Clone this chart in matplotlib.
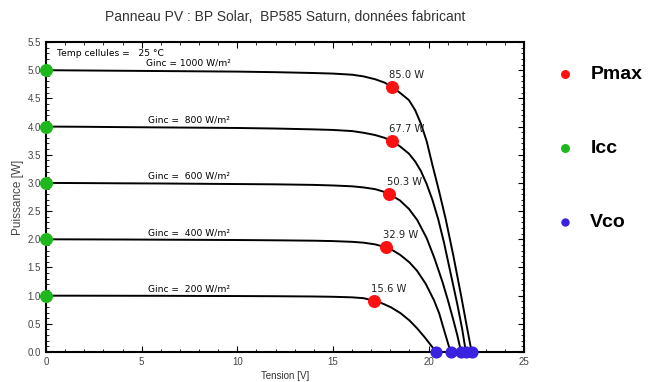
import numpy as np
import matplotlib
matplotlib.use('Agg')
import matplotlib.pyplot as plt
from matplotlib.ticker import MultipleLocator, FormatStrFormatter

plt.rcParams['font.family'] = ['Liberation Sans', 'DejaVu Sans']

# ── données ───────────────────────────────────────────────────────────────────
ginc = [1000, 800, 600, 400, 200]

v_1000 = [0, 2, 4, 6, 8, 10, 12, 14, 15, 16, 16.6, 17.2, 17.7, 18.1, 18.5, 18.97,
          19.3, 19.6, 19.9, 20.2, 20.55, 20.9, 21.3, 21.7, 22.0, 22.25]
i_1000 = [5.00, 4.995, 4.99, 4.985, 4.98, 4.975, 4.965, 4.95, 4.94, 4.92, 4.89, 4.84,
          4.78, 4.70, 4.60, 4.47, 4.29, 4.05, 3.74, 3.32, 2.85, 2.35, 1.70, 1.00, 0.45, 0.0]

v_800 = [0, 2, 4, 6, 8, 10, 12, 14, 15, 16, 16.6, 17.2, 17.7, 18.1, 18.5, 18.97,
         19.3, 19.6, 19.9, 20.2, 20.5, 20.8, 21.15, 21.5, 21.75, 21.95]
i_800 = [4.00, 3.996, 3.99, 3.985, 3.98, 3.975, 3.965, 3.95, 3.94, 3.92, 3.89, 3.85,
         3.80, 3.74, 3.65, 3.52, 3.38, 3.21, 2.98, 2.70, 2.36, 1.95, 1.40, 0.85, 0.42, 0.0]

v_600 = [0, 2, 4, 6, 8, 10, 12, 14, 15, 16, 16.6, 17.2, 17.6, 17.95, 18.5, 18.97,
         19.41, 19.9, 20.3, 20.72, 21.0, 21.3, 21.5, 21.7]
i_600 = [3.00, 2.997, 2.993, 2.99, 2.985, 2.98, 2.975, 2.965, 2.955, 2.94, 2.92, 2.89,
         2.85, 2.80, 2.69, 2.54, 2.34, 2.02, 1.67, 1.25, 0.93, 0.56, 0.30, 0.0]

v_400 = [0, 2, 4, 6, 8, 10, 12, 14, 15, 16, 16.6, 17.2, 17.75, 18.15, 18.53, 19.0,
         19.4, 19.85, 20.28, 20.55, 20.8, 21.15]
i_400 = [2.00, 1.998, 1.996, 1.993, 1.99, 1.987, 1.982, 1.975, 1.968, 1.955, 1.94, 1.91,
         1.86, 1.80, 1.72, 1.59, 1.44, 1.21, 0.92, 0.69, 0.40, 0.0]

v_200 = [0, 2, 4, 6, 8, 10, 12, 14, 15, 16, 16.6, 17.15, 17.6, 18.05, 18.53, 19.0,
         19.4, 19.8, 20.19, 20.4]
i_200 = [1.00, 0.999, 0.998, 0.997, 0.995, 0.993, 0.99, 0.985, 0.98, 0.97, 0.955, 0.91,
         0.86, 0.79, 0.69, 0.56, 0.42, 0.26, 0.09, 0.0]

# points remarquables
isc  = [5.0, 4.0, 3.0, 2.0, 1.0]
voc  = [22.25, 21.95, 21.7, 21.15, 20.4]
vmp  = [18.1, 18.1, 17.95, 17.75, 17.15]
imp  = [4.70, 3.74, 2.80, 1.86, 0.91]
pmax = [85.0, 67.7, 50.3, 32.9, 15.6]

curves = [(v_1000, i_1000), (v_800, i_800), (v_600, i_600), (v_400, i_400), (v_200, i_200)]

# ── figure ────────────────────────────────────────────────────────────────────
fig = plt.figure(figsize=(6.48, 3.82), dpi=100)
ax = fig.add_axes([0.071, 0.0785, 0.738, 0.8115])

for (v, i) in curves:
    ax.plot(v, i, color='black', lw=1.4, zorder=2)

ax.scatter(vmp, imp, s=70, color='#ff1010', zorder=4, clip_on=False, label='Pmax')
ax.scatter([0] * len(isc), isc, s=70, color='#1cb81c', zorder=4, clip_on=False, label='Icc')
ax.scatter(voc, [0] * len(voc), s=60, color='#3a22e0', zorder=4, clip_on=False, label='Vco')

for g, s in zip(ginc, isc):
    ax.text(7.45, s + 0.04, f'Ginc = {g:>4d} W/m²', fontsize=6.6, family='DejaVu Sans',
            ha='center', va='bottom')

for v, i, p in zip(vmp, imp, pmax):
    ax.text(v - 0.15, i + 0.12, f'{p:.1f} W', fontsize=7.2, family='DejaVu Sans',
            color='#222222', ha='left', va='bottom')

ax.text(0.55, 5.3, 'Temp cellules =   25 °C', fontsize=6.6, family='DejaVu Sans',
        ha='left', va='center')

ax.set_xlim(0, 25)
ax.set_ylim(0, 5.5)
ax.xaxis.set_major_locator(MultipleLocator(5))
ax.xaxis.set_minor_locator(MultipleLocator(1))
ax.yaxis.set_major_locator(MultipleLocator(0.5))
ax.yaxis.set_minor_locator(MultipleLocator(0.1))
ax.yaxis.set_major_formatter(FormatStrFormatter('%.1f'))
ax.tick_params(which='both', direction='in', top=True, right=True,
               labelsize=7, labelcolor='#444444', pad=3.5)
ax.tick_params(which='major', length=4, width=0.8)
ax.tick_params(which='minor', length=2, width=0.6)
for sp in ax.spines.values():
    sp.set_linewidth(1.5)

ax.set_xlabel('Tension [V]', fontsize=7, color='#333333', labelpad=3)
ax.set_ylabel('Puissance [W]', fontsize=8.5, color='#444444', labelpad=3)
ax.set_title('Panneau PV : BP Solar,  BP585 Saturn, données fabricant',
             fontsize=10, color='#333333', pad=15)

fig.legend(loc='upper left', bbox_to_anchor=(0.83, 0.875), frameon=False,
           markerscale=0.65, handletextpad=0.8, labelspacing=2.9, handlelength=1.0,
           prop={'weight': 'bold', 'size': 14})

plt.savefig('out.png', dpi=100)
